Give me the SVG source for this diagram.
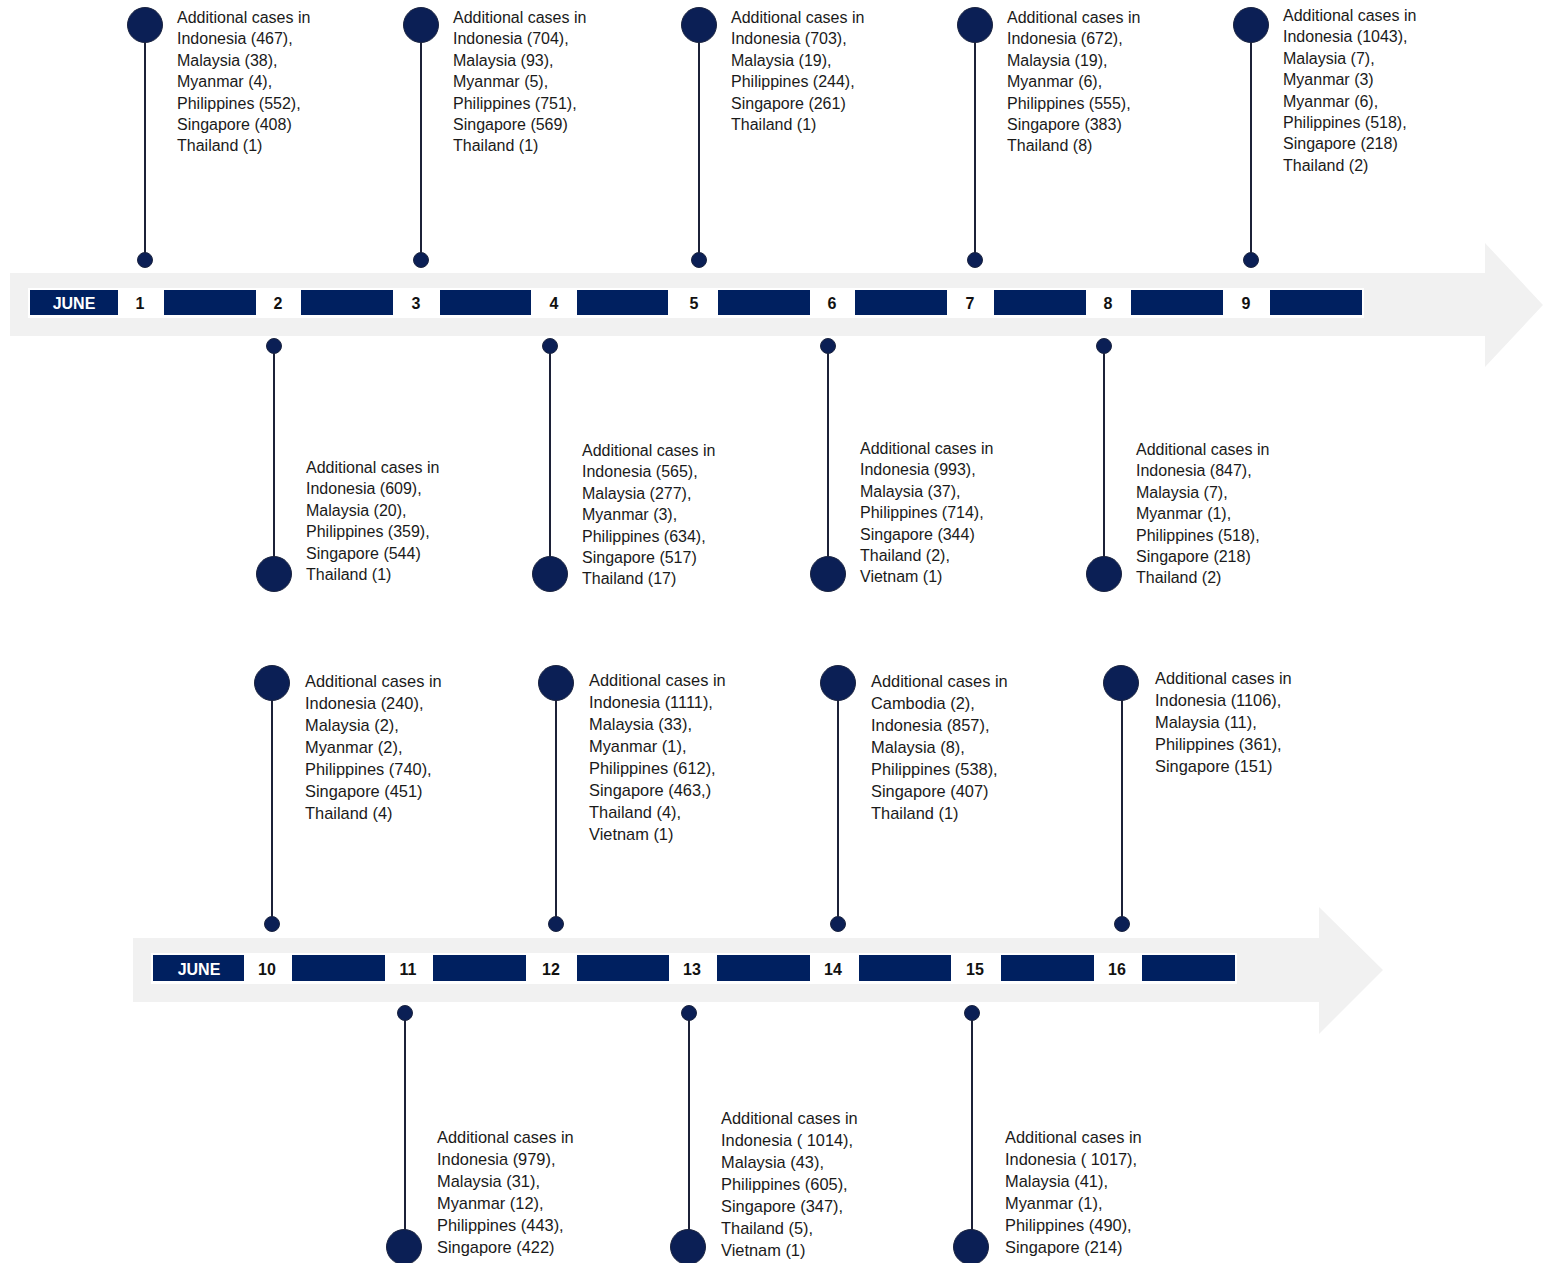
<svg xmlns="http://www.w3.org/2000/svg" width="1543" height="1263" viewBox="0 0 1543 1263">
<style>
.band{fill:#f1f1f1}
.strip{fill:#ffffff}
.bar{fill:#002060}
.mon{fill:#ffffff;font-family:"Liberation Sans",Arial,sans-serif;font-weight:bold;font-size:16px;text-anchor:middle}
.day{fill:#111111;font-family:"Liberation Sans",Arial,sans-serif;font-weight:bold;font-size:16px;text-anchor:middle}
.big{fill:#0b1f55;stroke:#1b2440;stroke-width:1}
.dot{fill:#0b1f55;stroke:#1b2440;stroke-width:1}
.stem{stroke:#1c2138;stroke-width:2;fill:none}
.t{fill:#1a1a1a;font-family:"Liberation Sans",Arial,sans-serif;font-size:16px}
.t2{fill:#1a1a1a;font-family:"Liberation Sans",Arial,sans-serif;font-size:16.4px}
</style>
<rect width="1543" height="1263" fill="#ffffff"/>
<g id="timeline-top">
<polygon class="band" points="10,273 1485,273 1485,243 1543,305 1485,367 1485,336 10,336"/>
<rect class="strip" x="28" y="288" width="1336" height="30"/>
<rect class="bar" x="30" y="290" width="88" height="25"/>
<text class="mon" x="74" y="309">JUNE</text>
<rect class="bar" x="164" y="290" width="92" height="25"/>
<rect class="bar" x="301" y="290" width="92" height="25"/>
<rect class="bar" x="440" y="290" width="91" height="25"/>
<rect class="bar" x="577" y="290" width="91" height="25"/>
<rect class="bar" x="718" y="290" width="92" height="25"/>
<rect class="bar" x="855" y="290" width="92" height="25"/>
<rect class="bar" x="994" y="290" width="92" height="25"/>
<rect class="bar" x="1131" y="290" width="92" height="25"/>
<rect class="bar" x="1270" y="290" width="92" height="25"/>
<text class="day" x="140" y="309">1</text>
<text class="day" x="278" y="309">2</text>
<text class="day" x="416" y="309">3</text>
<text class="day" x="554" y="309">4</text>
<text class="day" x="694" y="309">5</text>
<text class="day" x="832" y="309">6</text>
<text class="day" x="970" y="309">7</text>
<text class="day" x="1108" y="309">8</text>
<text class="day" x="1246" y="309">9</text>
</g>
<g id="timeline-bottom">
<polygon class="band" points="133,938 1319,938 1319,907 1383,970 1319,1034 1319,1002 133,1002"/>
<rect class="strip" x="151" y="953" width="1086" height="31"/>
<rect class="bar" x="153" y="955" width="91" height="26"/>
<text class="mon" x="199" y="975">JUNE</text>
<rect class="bar" x="292" y="955" width="93" height="26"/>
<rect class="bar" x="433" y="955" width="93" height="26"/>
<rect class="bar" x="577" y="955" width="92" height="26"/>
<rect class="bar" x="717" y="955" width="93" height="26"/>
<rect class="bar" x="859" y="955" width="92" height="26"/>
<rect class="bar" x="1001" y="955" width="93" height="26"/>
<rect class="bar" x="1142" y="955" width="93" height="26"/>
<text class="day" x="267" y="975">10</text>
<text class="day" x="408" y="975">11</text>
<text class="day" x="551" y="975">12</text>
<text class="day" x="692" y="975">13</text>
<text class="day" x="833" y="975">14</text>
<text class="day" x="975" y="975">15</text>
<text class="day" x="1117" y="975">16</text>
</g>
<g id="connectors">
<line class="stem" x1="145" y1="25" x2="145" y2="260"/>
<line class="stem" x1="421" y1="25" x2="421" y2="260"/>
<line class="stem" x1="699" y1="25" x2="699" y2="260"/>
<line class="stem" x1="975" y1="25" x2="975" y2="260"/>
<line class="stem" x1="1251" y1="25" x2="1251" y2="260"/>
<line class="stem" x1="274" y1="346" x2="274" y2="574"/>
<line class="stem" x1="550" y1="346" x2="550" y2="574"/>
<line class="stem" x1="828" y1="346" x2="828" y2="574"/>
<line class="stem" x1="1104" y1="346" x2="1104" y2="574"/>
<line class="stem" x1="272" y1="683" x2="272" y2="924"/>
<line class="stem" x1="556" y1="683" x2="556" y2="924"/>
<line class="stem" x1="838" y1="683" x2="838" y2="924"/>
<line class="stem" x1="1122" y1="683" x2="1122" y2="924"/>
<line class="stem" x1="405" y1="1013" x2="405" y2="1247"/>
<line class="stem" x1="689" y1="1013" x2="689" y2="1247"/>
<line class="stem" x1="972" y1="1013" x2="972" y2="1247"/>
</g>
<g id="node-1">
<circle class="big" cx="145" cy="25" r="17.5"/><circle class="dot" cx="145" cy="260" r="7.5"/>
<text class="t" x="177" y="23"><tspan x="177">Additional cases in</tspan><tspan x="177" dy="21.4">Indonesia (467),</tspan><tspan x="177" dy="21.4">Malaysia (38),</tspan><tspan x="177" dy="21.4">Myanmar (4),</tspan><tspan x="177" dy="21.4">Philippines (552),</tspan><tspan x="177" dy="21.4">Singapore (408)</tspan><tspan x="177" dy="21.4">Thailand (1)</tspan></text>
</g>
<g id="node-2">
<circle class="dot" cx="274" cy="346" r="7.5"/><circle class="big" cx="274" cy="574" r="17.5"/>
<text class="t" x="306" y="473"><tspan x="306">Additional cases in</tspan><tspan x="306" dy="21.4">Indonesia (609),</tspan><tspan x="306" dy="21.4">Malaysia (20),</tspan><tspan x="306" dy="21.4">Philippines (359),</tspan><tspan x="306" dy="21.4">Singapore (544)</tspan><tspan x="306" dy="21.4">Thailand (1)</tspan></text>
</g>
<g id="node-3">
<circle class="big" cx="421" cy="25" r="17.5"/><circle class="dot" cx="421" cy="260" r="7.5"/>
<text class="t" x="453" y="23"><tspan x="453">Additional cases in</tspan><tspan x="453" dy="21.4">Indonesia (704),</tspan><tspan x="453" dy="21.4">Malaysia (93),</tspan><tspan x="453" dy="21.4">Myanmar (5),</tspan><tspan x="453" dy="21.4">Philippines (751),</tspan><tspan x="453" dy="21.4">Singapore (569)</tspan><tspan x="453" dy="21.4">Thailand (1)</tspan></text>
</g>
<g id="node-4">
<circle class="dot" cx="550" cy="346" r="7.5"/><circle class="big" cx="550" cy="574" r="17.5"/>
<text class="t" x="582" y="456"><tspan x="582">Additional cases in</tspan><tspan x="582" dy="21.4">Indonesia (565),</tspan><tspan x="582" dy="21.4">Malaysia (277),</tspan><tspan x="582" dy="21.4">Myanmar (3),</tspan><tspan x="582" dy="21.4">Philippines (634),</tspan><tspan x="582" dy="21.4">Singapore (517)</tspan><tspan x="582" dy="21.4">Thailand (17)</tspan></text>
</g>
<g id="node-5">
<circle class="big" cx="699" cy="25" r="17.5"/><circle class="dot" cx="699" cy="260" r="7.5"/>
<text class="t" x="731" y="23"><tspan x="731">Additional cases in</tspan><tspan x="731" dy="21.4">Indonesia (703),</tspan><tspan x="731" dy="21.4">Malaysia (19),</tspan><tspan x="731" dy="21.4">Philippines (244),</tspan><tspan x="731" dy="21.4">Singapore (261)</tspan><tspan x="731" dy="21.4">Thailand (1)</tspan></text>
</g>
<g id="node-6">
<circle class="dot" cx="828" cy="346" r="7.5"/><circle class="big" cx="828" cy="574" r="17.5"/>
<text class="t" x="860" y="454"><tspan x="860">Additional cases in</tspan><tspan x="860" dy="21.4">Indonesia (993),</tspan><tspan x="860" dy="21.4">Malaysia (37),</tspan><tspan x="860" dy="21.4">Philippines (714),</tspan><tspan x="860" dy="21.4">Singapore (344)</tspan><tspan x="860" dy="21.4">Thailand (2),</tspan><tspan x="860" dy="21.4">Vietnam (1)</tspan></text>
</g>
<g id="node-7">
<circle class="big" cx="975" cy="25" r="17.5"/><circle class="dot" cx="975" cy="260" r="7.5"/>
<text class="t" x="1007" y="23"><tspan x="1007">Additional cases in</tspan><tspan x="1007" dy="21.4">Indonesia (672),</tspan><tspan x="1007" dy="21.4">Malaysia (19),</tspan><tspan x="1007" dy="21.4">Myanmar (6),</tspan><tspan x="1007" dy="21.4">Philippines (555),</tspan><tspan x="1007" dy="21.4">Singapore (383)</tspan><tspan x="1007" dy="21.4">Thailand (8)</tspan></text>
</g>
<g id="node-8">
<circle class="dot" cx="1104" cy="346" r="7.5"/><circle class="big" cx="1104" cy="574" r="17.5"/>
<text class="t" x="1136" y="455"><tspan x="1136">Additional cases in</tspan><tspan x="1136" dy="21.4">Indonesia (847),</tspan><tspan x="1136" dy="21.4">Malaysia (7),</tspan><tspan x="1136" dy="21.4">Myanmar (1),</tspan><tspan x="1136" dy="21.4">Philippines (518),</tspan><tspan x="1136" dy="21.4">Singapore (218)</tspan><tspan x="1136" dy="21.4">Thailand (2)</tspan></text>
</g>
<g id="node-9">
<circle class="big" cx="1251" cy="25" r="17.5"/><circle class="dot" cx="1251" cy="260" r="7.5"/>
<text class="t" x="1283" y="21"><tspan x="1283">Additional cases in</tspan><tspan x="1283" dy="21.4">Indonesia (1043),</tspan><tspan x="1283" dy="21.4">Malaysia (7),</tspan><tspan x="1283" dy="21.4">Myanmar (3)</tspan><tspan x="1283" dy="21.4">Myanmar (6),</tspan><tspan x="1283" dy="21.4">Philippines (518),</tspan><tspan x="1283" dy="21.4">Singapore (218)</tspan><tspan x="1283" dy="21.4">Thailand (2)</tspan></text>
</g>
<g id="node-10">
<circle class="big" cx="272" cy="683" r="17.5"/><circle class="dot" cx="272" cy="924" r="7.5"/>
<text class="t2" x="305" y="687"><tspan x="305">Additional cases in</tspan><tspan x="305" dy="22">Indonesia (240),</tspan><tspan x="305" dy="22">Malaysia (2),</tspan><tspan x="305" dy="22">Myanmar (2),</tspan><tspan x="305" dy="22">Philippines (740),</tspan><tspan x="305" dy="22">Singapore (451)</tspan><tspan x="305" dy="22">Thailand (4)</tspan></text>
</g>
<g id="node-11">
<circle class="dot" cx="405" cy="1013" r="7.5"/><circle class="big" cx="404" cy="1247" r="17.5"/>
<text class="t2" x="437" y="1143"><tspan x="437">Additional cases in</tspan><tspan x="437" dy="22">Indonesia (979),</tspan><tspan x="437" dy="22">Malaysia (31),</tspan><tspan x="437" dy="22">Myanmar (12),</tspan><tspan x="437" dy="22">Philippines (443),</tspan><tspan x="437" dy="22">Singapore (422)</tspan></text>
</g>
<g id="node-12">
<circle class="big" cx="556" cy="683" r="17.5"/><circle class="dot" cx="556" cy="924" r="7.5"/>
<text class="t2" x="589" y="686"><tspan x="589">Additional cases in</tspan><tspan x="589" dy="22">Indonesia (1111),</tspan><tspan x="589" dy="22">Malaysia (33),</tspan><tspan x="589" dy="22">Myanmar (1),</tspan><tspan x="589" dy="22">Philippines (612),</tspan><tspan x="589" dy="22">Singapore (463,)</tspan><tspan x="589" dy="22">Thailand (4),</tspan><tspan x="589" dy="22">Vietnam (1)</tspan></text>
</g>
<g id="node-13">
<circle class="dot" cx="689" cy="1013" r="7.5"/><circle class="big" cx="688" cy="1247" r="17.5"/>
<text class="t2" x="721" y="1124"><tspan x="721">Additional cases in</tspan><tspan x="721" dy="22">Indonesia ( 1014),</tspan><tspan x="721" dy="22">Malaysia (43),</tspan><tspan x="721" dy="22">Philippines (605),</tspan><tspan x="721" dy="22">Singapore (347),</tspan><tspan x="721" dy="22">Thailand (5),</tspan><tspan x="721" dy="22">Vietnam (1)</tspan></text>
</g>
<g id="node-14">
<circle class="big" cx="838" cy="683" r="17.5"/><circle class="dot" cx="838" cy="924" r="7.5"/>
<text class="t2" x="871" y="687"><tspan x="871">Additional cases in</tspan><tspan x="871" dy="22">Cambodia (2),</tspan><tspan x="871" dy="22">Indonesia (857),</tspan><tspan x="871" dy="22">Malaysia (8),</tspan><tspan x="871" dy="22">Philippines (538),</tspan><tspan x="871" dy="22">Singapore (407)</tspan><tspan x="871" dy="22">Thailand (1)</tspan></text>
</g>
<g id="node-15">
<circle class="dot" cx="972" cy="1013" r="7.5"/><circle class="big" cx="971" cy="1247" r="17.5"/>
<text class="t2" x="1005" y="1143"><tspan x="1005">Additional cases in</tspan><tspan x="1005" dy="22">Indonesia ( 1017),</tspan><tspan x="1005" dy="22">Malaysia (41),</tspan><tspan x="1005" dy="22">Myanmar (1),</tspan><tspan x="1005" dy="22">Philippines (490),</tspan><tspan x="1005" dy="22">Singapore (214)</tspan></text>
</g>
<g id="node-16">
<circle class="big" cx="1121" cy="683" r="17.5"/><circle class="dot" cx="1122" cy="924" r="7.5"/>
<text class="t2" x="1155" y="684"><tspan x="1155">Additional cases in</tspan><tspan x="1155" dy="22">Indonesia (1106),</tspan><tspan x="1155" dy="22">Malaysia (11),</tspan><tspan x="1155" dy="22">Philippines (361),</tspan><tspan x="1155" dy="22">Singapore (151)</tspan></text>
</g>
</svg>
